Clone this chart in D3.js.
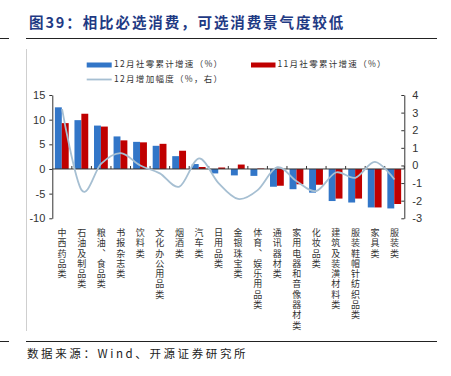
<!DOCTYPE html>
<html>
<head>
<meta charset="utf-8">
<script src="https://cdn.jsdelivr.net/npm/d3@7"></script>
<style>
  body { margin: 0; background: #fff; }
  svg { display: block; }
</style>
</head>
<body>
<svg width="451" height="376"></svg>
<script>
const categories = [
  "中西药品类", "石油及制品类", "粮油、食品类", "书报杂志类", "饮料类",
  "文化办公用品类", "烟酒类", "汽车类", "日用品类", "金银珠宝类",
  "体育、娱乐用品类", "通讯器材类", "家用电器和音像器材类", "化妆品类",
  "建筑及装潢材料类", "服装鞋帽针纺织品类", "家具类", "服装类"
];
const dec12 = [12.5, 9.9, 8.8, 6.6, 5.5, 4.7, 2.6, 1.0, -0.9, -1.3, -1.4, -3.6, -4.1, -4.8, -6.5, -6.8, -7.8, -8.0];
const nov11 = [9.3, 11.2, 8.6, 5.8, 5.4, 5.1, 3.7, 0.4, 0.3, 0.9, 0.1, -3.4, -3.1, -3.2, -6.0, -6.0, -7.8, -7.1];
const change = [3.2, -1.4, 0.1, 0.7, 0.0, -0.45, -1.2, 0.4, -1.0, -1.9, -1.4, -0.1, -0.9, -1.45, -0.4, -0.7, 0.2, -0.8];
const leftTicks = [-10, -5, 0, 5, 10, 15];
const rightTicks = [-3, -2, -1, 0, 1, 2, 3, 4];

const svg = d3.select("svg");
const cjk = "'Noto Sans CJK SC', sans-serif";

// title + frame lines
svg.append("text")
  .attr("x", 29).attr("y", 24)
  .attr("dominant-baseline", "middle")
  .style("font-family", cjk).style("font-weight", "bold")
  .style("font-size", "14.5px").style("letter-spacing", "1.9px")
  .attr("fill", "#1f3a84")
  .text("图39：相比必选消费，可选消费景气度较低");

svg.append("line").attr("x1", 26).attr("x2", 437).attr("y1", 38.5).attr("y2", 38.5)
  .attr("stroke", "#222").attr("stroke-width", 1);
svg.append("line").attr("x1", 0).attr("x2", 9).attr("y1", 38.5).attr("y2", 38.5)
  .attr("stroke", "#222").attr("stroke-width", 1);
svg.append("line").attr("x1", 26.5).attr("x2", 26.5).attr("y1", 49).attr("y2", 331)
  .attr("stroke", "#cfcfcf").attr("stroke-width", 1);
svg.append("line").attr("x1", 26).attr("x2", 437).attr("y1", 341.5).attr("y2", 341.5)
  .attr("stroke", "#222").attr("stroke-width", 1);
svg.append("line").attr("x1", 0).attr("x2", 9).attr("y1", 341.5).attr("y2", 341.5)
  .attr("stroke", "#222").attr("stroke-width", 1);

svg.append("text")
  .attr("x", 27).attr("y", 354.5)
  .attr("dominant-baseline", "middle")
  .style("font-family", cjk).style("font-size", "11.5px").style("letter-spacing", "2.6px")
  .attr("fill", "#222")
  .text("数据来源：Wind、开源证券研究所");

// scales
const plotL = 52.3, plotR = 404.3, plotT = 95, plotB = 218.3;
const x = d3.scaleBand().domain(categories).range([plotL, plotR]).padding(0);
const x1 = d3.scaleBand().domain(["dec", "nov"]).range([2.6, 16.4]);
const yL = d3.scaleLinear().domain([-10, 15]).range([plotB, plotT]);
const yR = d3.scaleLinear().domain([-3, 4]).range([plotB, plotT]);

const blue = "#3276c8", red = "#c00000", lineCol = "#a6bfd2";

// bars
const g = svg.append("g");
categories.forEach((c, i) => {
  [["dec", dec12[i], blue], ["nov", nov11[i], red]].forEach(([k, v, col]) => {
    g.append("rect")
      .attr("x", x(c) + x1(k))
      .attr("width", x1.bandwidth())
      .attr("y", yL(Math.max(0, v)))
      .attr("height", Math.abs(yL(v) - yL(0)))
      .attr("fill", col);
  });
});

// zero line with category boundary ticks
const y0 = yL(0);
svg.append("line").attr("x1", plotL).attr("x2", plotR).attr("y1", y0).attr("y2", y0)
  .attr("stroke", "#333").attr("stroke-width", 1);
svg.selectAll(".btick")
  .data(categories.slice(1).map(c => x(c)).concat([plotR]))
  .enter().append("line")
  .attr("x1", d => d).attr("x2", d => d)
  .attr("y1", y0).attr("y2", y0 - 3)
  .attr("stroke", "#333");

// change line (right axis)
const line = d3.line()
  .x((d, i) => x(categories[i]) + x.bandwidth() / 2)
  .y(d => yR(d))
  .curve(d3.curveCardinal.tension(0));
svg.append("path")
  .datum(change)
  .attr("d", line)
  .attr("fill", "none")
  .attr("stroke", lineCol)
  .attr("stroke-width", 1.8);

// left axis
const axL = svg.append("g")
  .attr("transform", `translate(${plotL},0)`)
  .call(d3.axisLeft(yL).tickValues(leftTicks).tickSize(3).tickSizeOuter(0).tickPadding(4)
    .tickFormat(d => String(d)));
// right axis
const axR = svg.append("g")
  .attr("transform", `translate(${plotR},0)`)
  .call(d3.axisRight(yR).tickValues(rightTicks).tickSize(-3).tickSizeOuter(0).tickPadding(8)
    .tickFormat(d => String(d)));
[axL, axR].forEach(a => {
  a.select(".domain").attr("stroke", "#333");
  a.selectAll(".tick line").attr("stroke", "#333");
  a.selectAll("text")
    .style("font-family", "'Liberation Sans', Arial, sans-serif")
    .style("font-size", "11px")
    .attr("fill", "#333");
});

// category labels (vertical)
svg.selectAll(".cat")
  .data(categories)
  .enter().append("text")
  .attr("class", "cat")
  .attr("x", d => x(d) + x.bandwidth() / 2)
  .attr("y", 228)
  .style("writing-mode", "vertical-rl")
  .style("text-orientation", "upright")
  .style("font-family", cjk).style("font-size", "9px")
  .style("letter-spacing", "1.3px")
  .attr("fill", "#333")
  .text(d => d);

// legend
const lg = svg.append("g").style("font-family", cjk).style("font-size", "8.5px")
  .style("letter-spacing", "1.3px");
lg.append("rect").attr("x", 86.7).attr("y", 62.5).attr("width", 25).attr("height", 5).attr("fill", blue);
lg.append("text").attr("x", 114).attr("y", 65).attr("dominant-baseline", "middle").attr("fill", "#333")
  .text("12月社零累计增速（%）");
lg.append("rect").attr("x", 251).attr("y", 62.5).attr("width", 24.5).attr("height", 5).attr("fill", red);
lg.append("text").attr("x", 277.5).attr("y", 65).attr("dominant-baseline", "middle").attr("fill", "#333")
  .text("11月社零累计增速（%）");
lg.append("line").attr("x1", 86.7).attr("x2", 111.7).attr("y1", 79.5).attr("y2", 79.5)
  .attr("stroke", lineCol).attr("stroke-width", 1.8);
lg.append("text").attr("x", 114).attr("y", 80).attr("dominant-baseline", "middle").attr("fill", "#333")
  .text("12月增加幅度（%，右）");
</script>
</body>
</html>
